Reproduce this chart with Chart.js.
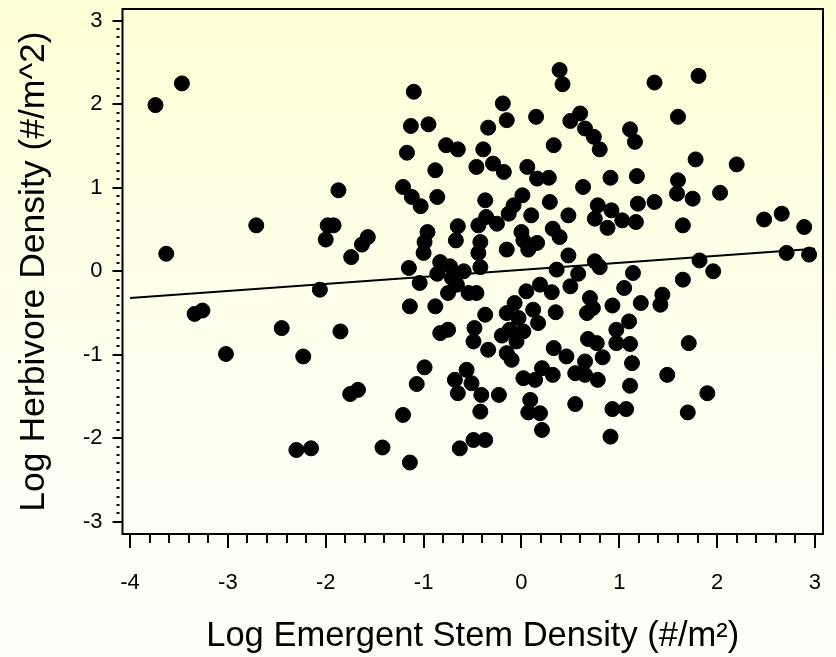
<!DOCTYPE html>
<html>
<head>
<meta charset="utf-8">
<title>Herbívoros vs densidad de tallos</title>
<script src="https://cdn.jsdelivr.net/npm/chart.js@4/dist/chart.umd.min.js"></script>
<style>
  html, body { margin: 0; padding: 0; }
  body {
    width: 836px;
    height: 657px;
    background: linear-gradient(to bottom, #ffffd6 0%, #fffff0 55%, #fefefa 100%);
  }
  #contenedor { position: relative; width: 836px; height: 657px; }
</style>
</head>
<body>
<div id="contenedor"><canvas id="grafico-densidad"></canvas></div>
<script>
// Datos (log10)
const stemDensity = [
  -3.74, -3.47, -3.63, -2.71, -1.87, -1.98, -1.92, -2.00, -1.63, -1.57, -1.74, -2.06,
  -3.34, -3.26, -2.45, -1.85, -3.02, -2.23, -1.75, -1.67, -2.30, -2.15, -1.42,
  -1.10, -0.19, -0.15, 0.15, -0.34, -1.13, -0.95, -0.77, -0.65, -0.39, -1.17, 0.33,
  -0.88, -0.46, -0.29, -0.18, 0.06, 0.16, 0.28, -1.21, -1.12, -1.03, -0.86, -0.37,
  0.01, -0.08, -0.13, 0.29, 0.10, -0.36, -0.25, -0.44, -0.65, -0.96, -0.67, -0.99,
  -0.42, 0.00, 0.02, 0.16, 0.32, -0.15, 0.07, -1.00, -0.44,
  0.39, 0.42, 1.36, 1.81, 0.50, 0.60, 0.65, 0.74, 0.80, 1.11, 1.16, 1.60, 1.78,
  0.63, 0.91, 1.18, 1.60, 1.59, 1.75, 2.03, 1.36, 1.19, 0.78, 0.92, 0.48, 0.75,
  1.03, 1.17, 0.88, 1.65, 0.39, 0.48, 0.75, 0.80, 0.36, 0.58, 1.14, 1.82, 1.96,
  -1.15, -1.04, -0.86, -0.83, -0.73, -0.59, -0.42, -0.71, -0.75, -0.66, -0.54, -0.46,
  -1.14, -0.88, 0.05, 0.19, 0.31, -0.07, -0.15, 0.12, -0.03, 0.17, 0.35, -0.37,
  -0.48, -0.83, -0.75, -0.49, -0.34, -0.20, -0.12, 0.02, -0.05, -0.15, -0.10, 0.33,
  -0.99, -1.07, -0.56, -0.68, -0.51, -0.65, -0.41, -0.42, -0.23, 0.02, 0.21, 0.14,
  0.32, 0.09, 0.07, 0.19, 0.21, -1.21, -0.63, -0.49, -0.37, -1.14,
  1.65, 1.05, 0.50, 0.70, 0.67, 0.73, 0.93, 1.22, 1.42, 1.44, 1.10, 0.97, 0.68,
  0.77, 0.97, 1.11, 1.71, 0.46, 0.65, 0.83, 1.13, 0.55, 0.65, 0.78, 1.11, 1.49,
  1.90, 0.55, 0.93, 1.07, 1.70, 0.91,
  2.20, 2.48, 2.66, 2.89, 2.71, 2.94
];
const herbivoreDensity = [
  1.99, 2.25, 0.21, 0.55, 0.97, 0.55, 0.55, 0.38, 0.32, 0.41, 0.17, -0.22,
  -0.51, -0.47, -0.68, -0.72, -0.99, -1.02, -1.47, -1.42, -2.14, -2.12, -2.11,
  2.15, 2.01, 1.81, 1.85, 1.72, 1.74, 1.76, 1.51, 1.46, 1.46, 1.42, 1.51,
  1.21, 1.25, 1.29, 1.19, 1.25, 1.11, 1.12, 1.01, 0.89, 0.78, 0.89, 0.85,
  0.91, 0.79, 0.69, 0.83, 0.67, 0.65, 0.57, 0.55, 0.54, 0.47, 0.37, 0.35,
  0.35, 0.47, 0.37, 0.34, 0.51, 0.26, 0.26, 0.22, 0.22,
  2.41, 2.24, 2.26, 2.34, 1.80, 1.89, 1.71, 1.61, 1.46, 1.70, 1.55, 1.85, 1.34,
  1.01, 1.12, 1.14, 1.09, 0.93, 0.87, 0.94, 0.83, 0.81, 0.79, 0.73, 0.67, 0.63,
  0.61, 0.59, 0.52, 0.55, 0.41, 0.19, 0.12, 0.05, 0.02, -0.03, -0.02, 0.13, 0.00,
  0.04, -0.14, -0.03, 0.11, 0.06, 0.00, 0.05, -0.08, -0.26, -0.16, -0.26, -0.26,
  -0.42, -0.42, -0.24, -0.16, -0.25, -0.38, -0.50, -0.46, -0.56, -0.62, -0.49, -0.52,
  -0.68, -0.74, -0.70, -0.84, -0.94, -0.77, -0.70, -0.72, -0.84, -0.98, -1.06, -0.92,
  -1.15, -1.35, -1.18, -1.30, -1.34, -1.46, -1.48, -1.68, -1.48, -1.28, -1.16, -1.30,
  -1.24, -1.54, -1.69, -1.70, -1.90, -1.72, -2.12, -2.02, -2.02, -2.29,
  -0.10, -0.20, -0.18, -0.32, -0.50, -0.44, -0.41, -0.38, -0.40, -0.28, -0.60, -0.70, -0.81,
  -0.86, -0.86, -0.87, -0.86, -1.02, -1.08, -1.03, -1.10, -1.22, -1.24, -1.30, -1.37, -1.24,
  -1.46, -1.59, -1.65, -1.65, -1.69, -1.98,
  1.28, 0.62, 0.69, 0.53, 0.22, 0.20
];
// Recta de regresion
const fitX = [-4, 3];
const fitY = [-0.32, 0.27];
// Marcas de los ejes
const xTicks = [-4, -3, -2, -1, 0, 1, 2, 3];
const yTicks = [-3, -2, -1, 0, 1, 2, 3];

const FUENTE = '"Liberation Sans", Arial, Helvetica, sans-serif';

// quita el relleno que Chart.js reserva para etiquetas que sobresalen
function sinRelleno(s) {
  s.paddingTop = 0;
  s.paddingBottom = 0;
  s.paddingLeft = 0;
  s.paddingRight = 0;
}

document.addEventListener('DOMContentLoaded', () => {
  const puntos = stemDensity.map((x, i) => ({ x: x, y: herbivoreDensity[i] }));
  const recta = fitX.map((x, i) => ({ x: x, y: fitY[i] }));

  // Caja del grafico y marcas menores/mayores
  const marcoEjes = {
    id: 'marcoEjes',
    beforeDatasetsDraw(chart) {
      const { ctx, chartArea: a, scales: { x, y } } = chart;
      ctx.save();
      ctx.strokeStyle = '#000';
      ctx.lineWidth = 2;
      ctx.strokeRect(a.left, a.top, a.right - a.left, a.bottom - a.top);

      ctx.beginPath();
      for (let i = -40; i <= 30; i += 2) {
        const px = Math.round(x.getPixelForValue(i / 10));
        const largo = i % 10 === 0 ? 14 : 9;
        ctx.moveTo(px, a.bottom);
        ctx.lineTo(px, a.bottom + largo);
      }
      for (let i = -30; i <= 30; i++) {
        const py = Math.round(y.getPixelForValue(i / 10));
        if (i % 10 === 0) {
          ctx.moveTo(a.left - 10, py);
          ctx.lineTo(a.left, py);
        } else {
          ctx.moveTo(a.left - 6, py);
          ctx.lineTo(a.left - 3, py);
        }
      }
      ctx.stroke();
      ctx.restore();
    }
  };

  const config = {
    type: 'scatter',
    data: {
      datasets: [
        {
          label: 'Densidad',
          data: puntos,
          backgroundColor: '#000',
          borderColor: '#000',
          borderWidth: 1,
          pointRadius: 7.5,
          pointHoverRadius: 7.5
        },
        {
          type: 'line',
          label: 'Ajuste',
          data: recta,
          borderColor: '#000',
          borderWidth: 2,
          pointRadius: 0,
          fill: false
        }
      ]
    },
    options: {
      responsive: true,
      maintainAspectRatio: false,
      animation: false,
      events: [],
      layout: { padding: { top: 9, right: 13, bottom: 0, left: 0 } },
      plugins: {
        legend: { display: false },
        tooltip: { enabled: false }
      },
      scales: {
        x: {
          type: 'linear',
          min: -4.077,
          max: 3.082,
          afterBuildTicks: (s) => { s.ticks = xTicks.map(v => ({ value: v })); },
          afterFit: (s) => { s.height = 123; sinRelleno(s); },
          grid: { display: false, drawTicks: false },
          border: { display: false },
          ticks: {
            color: '#000',
            padding: 36,
            maxRotation: 0,
            font: { family: FUENTE, size: 22 }
          },
          title: {
            display: true,
            text: 'Log Emergent Stem Density (#/m²)',
            color: '#000',
            font: { family: FUENTE, size: 34.5, lineHeight: 1 },
            padding: { top: 0, bottom: 3 }
          }
        },
        y: {
          type: 'linear',
          min: -3.146,
          max: 3.141,
          afterBuildTicks: (s) => { s.ticks = yTicks.map(v => ({ value: v })); },
          afterFit: (s) => { s.width = 122.5; sinRelleno(s); },
          grid: { display: false, drawTicks: false },
          border: { display: false },
          ticks: {
            color: '#000',
            padding: 20,
            font: { family: FUENTE, size: 22 }
          },
          title: {
            display: true,
            text: 'Log Herbivore Density (#/m^2)',
            color: '#000',
            font: { family: FUENTE, size: 35.5, lineHeight: 1 },
            padding: { top: 16, bottom: 0 }
          }
        }
      }
    },
    plugins: [marcoEjes]
  };

  const ctx = document.getElementById('grafico-densidad').getContext('2d');
  new Chart(ctx, config);
});
</script>
</body>
</html>
